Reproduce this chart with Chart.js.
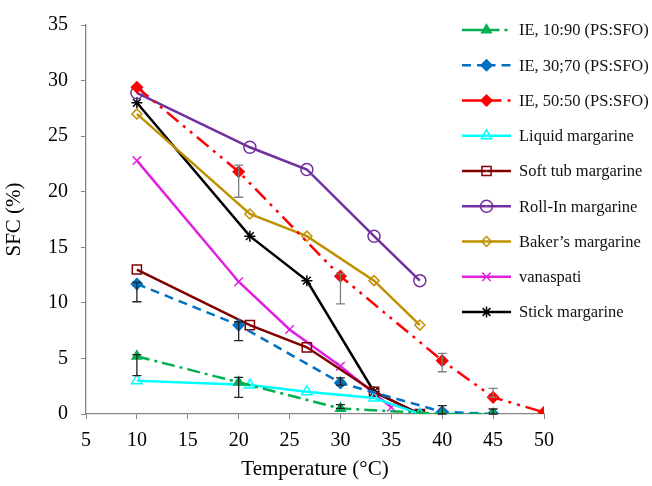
<!DOCTYPE html>
<html>
<head>
<meta charset="utf-8">
<script src="https://cdn.jsdelivr.net/npm/chart.js@4.4.0/dist/chart.umd.min.js"></script>
<style>
  body { margin: 0; background: #fff; }
  #wrap { width: 652px; height: 486px; }
</style>
</head>
<body>
<div id="wrap"><canvas id="grafico" width="652" height="486"></canvas></div>
<script>
// Temperaturas (°C)
const tempIE = [10, 20, 30, 40, 45];
const tempIE50 = [10, 20, 30, 40, 45, 50];
const tempMarg = [10, 21.1, 26.7, 33.3, 37.8];
const tempVan = [10, 20, 25, 30, 35];

// SFC (%) por serie
const ie1090 = [5.2, 2.85, 0.5, 0, 0];
const ie1090Bajo = [3.45, 1.5, 0.5, 0, 0];
const ie1090Alto = [5.35, 3.3, 0.85, 0, 0];

const ie3070 = [11.7, 8.0, 2.8, 0.2, 0];
const ie3070Bajo = [10.1, 6.6, 2.6, 0, 0];
const ie3070Alto = [11.85, 8.3, 3.25, 0.75, 0.45];

const ie5050 = [29.4, 21.8, 12.4, 4.8, 1.5, 0.15];
const ie5050Bajo = [29.4, 19.5, 9.9, 3.8, 1.5, 0.15];
const ie5050Alto = [29.4, 22.4, 12.6, 5.45, 2.3, 0.15];

const liquida = [3.0, 2.6, 2.0, 1.45, 0];
const tarrina = [13.0, 8.0, 6.0, 2.0, 0];
const rollIn = [28.9, 24.0, 22.0, 16.0, 12.0];
const panadero = [27.0, 18.0, 16.0, 12.0, 8.0];
const vanaspati = [22.8, 11.9, 7.6, 4.3, 0.6];
const barra = [28.0, 16.0, 12.0, 2.0, 0];

const etiquetas = [
  'IE, 10:90 (PS:SFO)', 'IE, 30;70 (PS:SFO)', 'IE, 50:50 (PS:SFO)',
  'Liquid margarine', 'Soft tub margarine', 'Roll-In margarine',
  'Baker\u2019s margarine', 'vanaspati', 'Stick margarine'
];
const ticksX = [5, 10, 15, 20, 25, 30, 35, 40, 45, 50];
const ticksY = [0, 5, 10, 15, 20, 25, 30, 35];

// Convierte dos arreglos en puntos {x, y}
const puntos = (xs, ys) => xs.map((x, i) => ({ x: x, y: ys[i] }));

const serif = 'Liberation Serif, Times New Roman, serif';

// Función para crear una serie
function serie(label, xs, ys, color, estilo, radio, relleno, guiones, extra) {
  return Object.assign({
    label: label,
    data: puntos(xs, ys),
    borderColor: color,
    backgroundColor: relleno,
    borderWidth: 2.5,
    borderDash: guiones,
    pointStyle: estilo,
    pointRadius: radio,
    pointBorderColor: color,
    pointBackgroundColor: relleno,
    pointBorderWidth: 1.5,
    tension: 0,
    fill: false
  }, extra || {});
}

const datasets = [
  serie(etiquetas[0], tempIE, ie1090, '#00B050', 'triangle', 5.5, '#00B050', [13, 5, 3, 5],
    { errBajo: ie1090Bajo, errAlto: ie1090Alto, errColor: '#222', leyendaSolida: true }),
  serie(etiquetas[1], tempIE, ie3070, '#0070C0', 'rectRot', 5.5, '#0070C0', [9, 6],
    { errBajo: ie3070Bajo, errAlto: ie3070Alto, errColor: '#222' }),
  serie(etiquetas[2], tempIE50, ie5050, '#FF0000', 'rectRot', 5.5, '#FF0000', [15, 6, 3, 6, 3, 6],
    { errBajo: ie5050Bajo, errAlto: ie5050Alto, errColor: '#808080', leyendaSolida: true }),
  serie(etiquetas[3], tempMarg, liquida, '#00FFFF', 'triangle', 6, 'rgba(255,255,255,0)', []),
  serie(etiquetas[4], tempMarg, tarrina, '#800000', 'rect', 6.5, 'rgba(255,255,255,0)', []),
  serie(etiquetas[5], tempMarg, rollIn, '#7030A0', 'circle', 6, 'rgba(255,255,255,0)', []),
  serie(etiquetas[6], tempMarg, panadero, '#BF9000', 'rectRot', 5, 'rgba(255,255,255,0)', []),
  serie(etiquetas[7], tempVan, vanaspati, '#E020E0', 'crossRot', 6, 'rgba(255,255,255,0)', []),
  serie(etiquetas[8], tempMarg, barra, '#000000', 'star', 5.5, 'rgba(255,255,255,0)', [])
];

// Plugin para barras de error
const barrasError = {
  id: 'barrasError',
  afterDatasetsDraw(chart) {
    const ctx = chart.ctx;
    const sx = chart.scales.x, sy = chart.scales.y;
    chart.data.datasets.forEach(ds => {
      if (!ds.errBajo) return;
      ctx.save();
      ctx.strokeStyle = ds.errColor;
      ctx.lineWidth = 1.3;
      ds.data.forEach((p, i) => {
        const lo = ds.errBajo[i], hi = ds.errAlto[i];
        if (hi - lo < 0.05) return;
        const x = sx.getPixelForValue(p.x);
        const y1 = sy.getPixelForValue(lo), y2 = sy.getPixelForValue(hi);
        ctx.beginPath();
        ctx.moveTo(x, y1); ctx.lineTo(x, y2);
        ctx.moveTo(x - 4.5, y1); ctx.lineTo(x + 4.5, y1);
        ctx.moveTo(x - 4.5, y2); ctx.lineTo(x + 4.5, y2);
        ctx.stroke();
      });
      ctx.restore();
    });
  }
};

// Plugin para la leyenda dentro del gráfico
const leyenda = {
  id: 'leyenda',
  afterDraw(chart) {
    const ctx = chart.ctx;
    const x0 = 462, x1 = 511, xt = 519, xm = (x0 + x1) / 2;
    chart.data.datasets.forEach((ds, i) => {
      const y = 30 + i * 35.25;
      ctx.save();
      ctx.strokeStyle = ds.borderColor;
      ctx.lineWidth = ds.borderWidth;
      // algunas series llevan el tramo izquierdo sólido
      ctx.setLineDash(ds.leyendaSolida ? [] : ds.borderDash);
      ctx.beginPath();
      ctx.moveTo(x0, y); ctx.lineTo(xm, y);
      ctx.stroke();
      ctx.setLineDash(ds.borderDash);
      ctx.beginPath();
      ctx.moveTo(xm, y); ctx.lineTo(x1, y);
      ctx.stroke();
      ctx.setLineDash([]);
      ctx.strokeStyle = ds.pointBorderColor;
      ctx.fillStyle = ds.pointBackgroundColor;
      ctx.lineWidth = ds.pointBorderWidth;
      Chart.helpers.drawPoint(ctx, {
        pointStyle: ds.pointStyle, radius: ds.pointRadius, rotation: 0, borderWidth: ds.pointBorderWidth
      }, xm, y);
      ctx.fillStyle = '#111';
      ctx.font = '16.5px ' + serif;
      ctx.textAlign = 'left';
      ctx.textBaseline = 'middle';
      ctx.fillText(ds.label, xt, y + 1);
      ctx.restore();
    });
  }
};

const ctx = document.getElementById('grafico').getContext('2d');
new Chart(ctx, {
  type: 'line',
  data: { datasets: datasets },
  options: {
    responsive: false,
    animation: false,
    layout: { padding: { left: 0, right: 108, top: 16, bottom: 0 } },
    plugins: { legend: { display: false }, tooltip: { enabled: false } },
    scales: {
      x: {
        type: 'linear', min: 5, max: 50,
        afterBuildTicks: s => { s.ticks = ticksX.map(v => ({ value: v })); },
        afterFit: s => { s.height = 72; },
        grid: { drawOnChartArea: false, drawTicks: true, tickLength: 5, color: '#868686' },
        border: { color: '#868686', width: 1.3 },
        ticks: { color: '#000', font: { family: serif, size: 20 }, padding: 10, maxRotation: 0 },
        title: { display: true, text: 'Temperature (\u00B0C)', color: '#000',
          font: { family: serif, size: 21 }, padding: { top: 0, bottom: 4 } }
      },
      y: {
        type: 'linear', min: 0, max: 35,
        afterBuildTicks: s => { s.ticks = ticksY.map(v => ({ value: v })); },
        afterFit: s => { s.width = 86; },
        grid: { drawOnChartArea: false, drawTicks: true, tickLength: 5, color: '#868686' },
        border: { color: '#868686', width: 1.3 },
        ticks: { color: '#000', font: { family: serif, size: 20 }, padding: 13 },
        title: { display: true, text: 'SFC (%)', color: '#000',
          font: { family: serif, size: 21 }, padding: { top: 2, bottom: 0 } }
      }
    }
  },
  plugins: [barrasError, leyenda]
});
</script>
</body>
</html>
